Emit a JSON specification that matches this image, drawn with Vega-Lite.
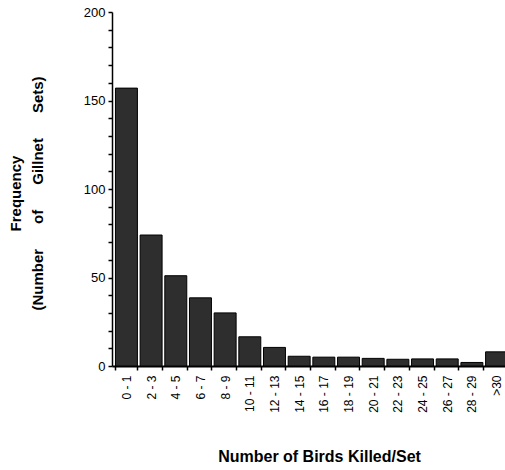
{
  "$schema": "https://vega.github.io/schema/vega-lite/v6.json",
  "autosize": "none",
  "padding": {"left": 112, "top": 12, "right": 0, "bottom": 104},
  "width": 399,
  "height": 354,
  "background": "white",
  "config": {"view": {"stroke": null}, "font": "Liberation Sans"},
  "data": {
    "values": [
      {"birds": "0-1", "freq": 157},
      {"birds": "2-3", "freq": 74},
      {"birds": "4-5", "freq": 51},
      {"birds": "6-7", "freq": 38.5},
      {"birds": "8-9", "freq": 30},
      {"birds": "10-11", "freq": 16.5},
      {"birds": "12-13", "freq": 10.5},
      {"birds": "14-15", "freq": 5.5},
      {"birds": "16-17", "freq": 5},
      {"birds": "18-19", "freq": 5},
      {"birds": "20-21", "freq": 4.3},
      {"birds": "22-23", "freq": 3.8},
      {"birds": "24-25", "freq": 4},
      {"birds": "26-27", "freq": 4},
      {"birds": "28-29", "freq": 2},
      {"birds": ">30", "freq": 8}
    ]
  },
  "mark": {"type": "bar", "fill": "#2e2e2e", "stroke": "#000", "strokeWidth": 1},
  "encoding": {
    "x": {
      "field": "birds",
      "type": "ordinal",
      "sort": null,
      "scale": {"paddingInner": 0.11, "paddingOuter": 0.14},
      "axis": {
        "title": "Number of Birds Killed/Set",
        "titleFontSize": 16,
        "titleFontWeight": "bold",
        "titleColor": "#000",
        "titlePadding": 36,
        "titleX": 207,
        "titleAnchor": "middle",
        "labelAngle": -90,
        "labelFontSize": 12,
        "labelColor": "#000",
        "labelPadding": 5,
        "labelExpr": "replace(datum.label, '-', ' - ')",
        "tickBand": "extent",
        "tickSize": 4,
        "tickColor": "#000",
        "tickWidth": 1.5,
        "domainColor": "#000",
        "domainWidth": 2
      }
    },
    "y": {
      "field": "freq",
      "type": "quantitative",
      "scale": {"domain": [0, 200], "nice": false},
      "axis": {
        "title": ["Frequency", "(Number\u00a0\u00a0\u00a0\u00a0\u00a0\u00a0of\u00a0\u00a0\u00a0\u00a0\u00a0\u00a0Gillnet\u00a0\u00a0\u00a0\u00a0\u00a0\u00a0Sets)"],
        "titleFontSize": 15,
        "titleFontWeight": "bold",
        "titleColor": "#000",
        "titlePadding": 38,
        "titleLineHeight": 22,
        "titleY": 181,
        "values": [0,10,20,30,40,50,60,70,80,90,100,110,120,130,140,150,160,170,180,190,200],
        "labelExpr": "datum.value % 50 === 0 ? datum.label : ''",
        "labelFontSize": 13,
        "labelColor": "#000",
        "labelPadding": 3,
        "tickSize": 4,
        "tickColor": "#000",
        "tickWidth": 1.5,
        "domainColor": "#000",
        "domainWidth": 1.5,
        "grid": false
      }
    }
  }
}
